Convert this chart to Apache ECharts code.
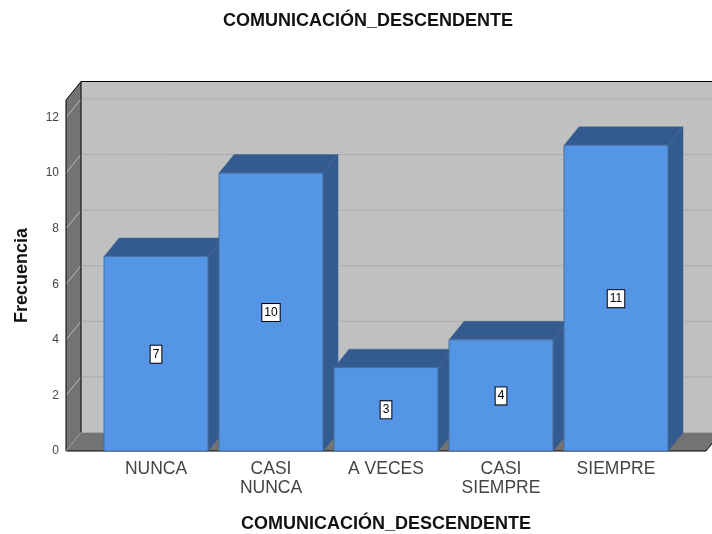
<!DOCTYPE html>
<html>
<head>
<meta charset="utf-8">
<title>COMUNICACIÓN_DESCENDENTE</title>
<script src="https://cdn.jsdelivr.net/npm/echarts@6/dist/echarts.min.js"></script>
<style>
  html, body { margin: 0; padding: 0; background: #fff; }
  #chart { width: 712px; height: 534px; }
</style>
</head>
<body>
<div id="chart"></div>
<script>
var categories = ['NUNCA', 'CASI\nNUNCA', 'A VECES', 'CASI\nSIEMPRE', 'SIEMPRE'];
var frecuencias = [7, 10, 3, 4, 11];
var yTicks = [0, 2, 4, 6, 8, 10, 12];

// profundidad del efecto 3D, en pixeles
var DX = 15, DY = 18.5;
var FONT = '"Liberation Sans", Arial, sans-serif';

var chart = echarts.init(document.getElementById('chart'));

// paredes y suelo
function renderWalls(params, api) {
  var cs = params.coordSys;
  var left = cs.x - 32.5, right = 706;
  var y0 = api.coord([0, 0])[1], yTop = cs.y;
  var kids = [
    { type: 'polygon', shape: { points: [[left + DX, yTop - DY], [right + DX, yTop - DY], [right + DX, y0 - DY], [left + DX, y0 - DY]] },
      style: { fill: '#c0c0c0' } },
    { type: 'polygon', shape: { points: [[left, yTop], [left + DX, yTop - DY], [left + DX, y0 - DY], [left, y0]] },
      style: { fill: '#737373' } },
    { type: 'polygon', shape: { points: [[left, y0], [left + DX, y0 - DY], [right + DX, y0 - DY], [right, y0]] },
      style: { fill: '#737373' } }
  ];
  yTicks.forEach(function (t) {
    if (t === 0) return;
    var y = api.coord([0, t])[1];
    kids.push({ type: 'line', shape: { x1: left + DX, y1: y - DY, x2: right + DX, y2: y - DY },
      style: { stroke: '#adadad', lineWidth: 1 } });
    kids.push({ type: 'line', shape: { x1: left, y1: y, x2: left + DX, y2: y - DY },
      style: { stroke: '#bdbdbd', lineWidth: 1 } });
  });
  kids.push({ type: 'line', shape: { x1: left + DX, y1: y0 - DY, x2: right + DX, y2: y0 - DY }, style: { stroke: '#a6a6a6', lineWidth: 1 } });
  kids.push({ type: 'polyline', shape: { points: [[left, y0], [left, yTop], [left + DX, yTop - DY], [right + DX, yTop - DY]] }, style: { fill: 'none', stroke: '#000', lineWidth: 1 } });
  kids.push({ type: 'line', shape: { x1: left + DX, y1: yTop - DY, x2: left + DX, y2: y0 - DY }, style: { stroke: '#000', lineWidth: 1 } });
  kids.push({ type: 'polyline', shape: { points: [[left, y0], [right, y0], [right + DX, y0 - DY]] }, style: { fill: 'none', stroke: '#000', lineWidth: 1 } });
  kids.push({ type: 'line', shape: { x1: left, y1: y0, x2: left + DX, y2: y0 - DY }, style: { stroke: '#9a9a9a', lineWidth: 1 } });
  return { type: 'group', children: kids };
}

// barra con cara frontal, lateral y superior
function renderBar(params, api) {
  var i = api.value(0), v = api.value(1);
  var top = api.coord([i, v]), base = api.coord([i, 0]);
  var w = api.size([1, 0])[0] * 0.904;
  var x1 = top[0] - w / 2, x2 = top[0] + w / 2;
  return {
    type: 'group',
    children: [
      { type: 'polygon', shape: { points: [[x2, top[1]], [x2 + DX, top[1] - DY], [x2 + DX, base[1] - DY], [x2, base[1]]] },
        style: { fill: '#335b8f', stroke: '#335b8f', lineWidth: 0.5 } },
      { type: 'polygon', shape: { points: [[x1, top[1]], [x1 + DX, top[1] - DY], [x2 + DX, top[1] - DY], [x2, top[1]]] },
        style: { fill: '#335b8f', stroke: '#4a6a92', lineWidth: 0.5 } },
      { type: 'rect', shape: { x: x1, y: top[1], width: w, height: base[1] - top[1] },
        style: { fill: '#5495e6', stroke: '#47709f', lineWidth: 1 } },
      { type: 'text', x: top[0], y: (top[1] + base[1]) / 2 + 0.5,
        style: { text: String(v), fill: '#000', font: '12px ' + FONT, align: 'center', verticalAlign: 'middle',
          backgroundColor: '#fff', borderColor: '#000', borderWidth: 1, padding: [3, 2, 2, 2] } }
    ]
  };
}

chart.setOption({
  animation: false,
  backgroundColor: '#fff',
  title: {
    text: 'COMUNICACIÓN_DESCENDENTE',
    left: 363, top: 7, textAlign: 'center',
    textStyle: { fontFamily: FONT, fontSize: 18, fontWeight: 'bold', color: '#111' }
  },
  grid: { left: 98.5, right: 38.5, top: 100, bottom: 83, outerBoundsMode: 'none' },
  xAxis: {
    type: 'category',
    data: categories,
    axisLine: { show: false },
    axisTick: { show: false },
    axisLabel: { interval: 0, margin: 9, fontFamily: FONT, fontSize: 17.5, lineHeight: 19, color: '#444' },
    name: 'COMUNICACIÓN_DESCENDENTE',
    nameLocation: 'middle',
    nameGap: 64,
    nameTextStyle: { fontFamily: FONT, fontSize: 18, fontWeight: 'bold', color: '#111' }
  },
  yAxis: {
    type: 'value',
    min: 0,
    max: 12.63,
    offset: 32.5,
    splitLine: { show: false },
    axisLine: { show: false },
    axisTick: { show: false },
    axisLabel: { customValues: yTicks, margin: 7, fontFamily: FONT, fontSize: 12, color: '#444' },
    name: 'Frecuencia',
    nameLocation: 'middle',
    nameGap: 35,
    nameTextStyle: { fontFamily: FONT, fontSize: 18, fontWeight: 'bold', color: '#111' }
  },
  series: [
    { type: 'custom', z: 1, renderItem: renderWalls, data: [[0, 0]], silent: true },
    { type: 'custom', z: 2, renderItem: renderBar, encode: { x: 0, y: 1 },
      data: frecuencias.map(function (v, i) { return [i, v]; }) }
  ]
});
</script>
</body>
</html>
